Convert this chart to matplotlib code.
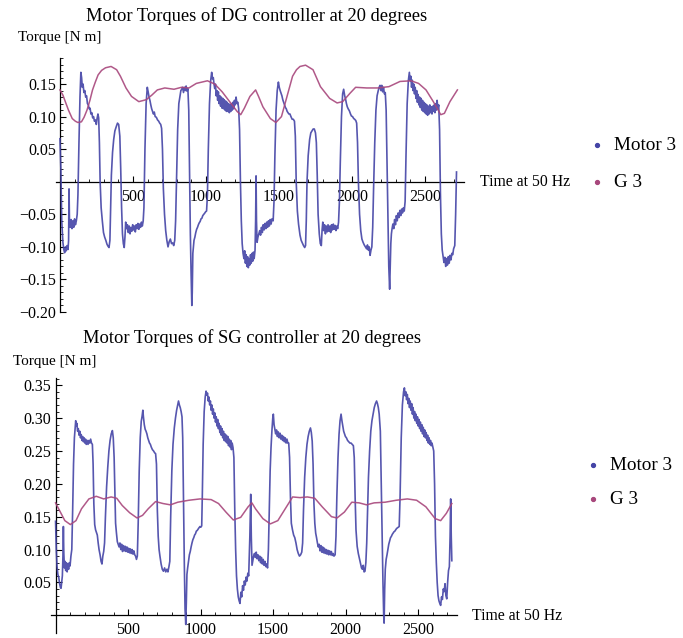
import numpy as np
import matplotlib
matplotlib.use("Agg")
import matplotlib.pyplot as plt
from matplotlib.lines import Line2D
from matplotlib.ticker import FixedLocator

plt.rcParams['font.family'] = ['Liberation Serif', 'DejaVu Serif']

# ---------------- data: DG controller (top) ----------------
dg_motor_t = [0, 6, 12, 20, 26, 32, 38, 43, 49, 55, 59, 62, 65, 70, 76, 82, 88, 94, 100, 106, 112, 118, 123,
              130, 137, 143, 148, 153, 158, 164, 170, 176, 182, 188, 194, 200, 206, 212, 218, 224, 230, 236, 242,
              249, 254, 260, 265, 270, 275, 282, 290, 298, 306, 314, 322, 329, 336, 342, 347, 352, 360, 368, 376,
              386, 394, 402, 410, 416, 422, 428, 434, 440, 445, 450, 456, 462, 468, 474, 480, 486, 492, 498, 504,
              510, 516, 522, 528, 534, 540, 546, 552, 558, 564, 570, 575, 582, 590, 598, 604, 610, 616, 622, 628,
              634, 640, 646, 652, 660, 668, 676, 683, 690, 696, 702, 708, 716, 724, 732, 740, 748, 756, 764, 772,
              779, 786, 792, 799, 806, 814, 822, 828, 834, 840, 846, 852, 858, 864, 870, 876, 882, 887, 893, 898,
              903, 906, 910, 913, 918, 924, 930, 936, 942, 948, 954, 960, 966, 972, 978, 985, 992, 998, 1004, 1010,
              1016, 1024, 1032, 1039, 1044, 1050, 1055, 1060, 1065, 1070, 1075, 1080, 1085, 1090, 1095, 1100, 1105,
              1110, 1115, 1120, 1125, 1130, 1135, 1140, 1145, 1150, 1155, 1160, 1165, 1170, 1175, 1180, 1185, 1190,
              1195, 1200, 1206, 1212, 1218, 1224, 1230, 1236, 1242, 1248, 1254, 1260, 1265, 1270, 1275, 1280, 1285,
              1290, 1295, 1300, 1305, 1310, 1315, 1320, 1325, 1330, 1336, 1340, 1343, 1346, 1350, 1356, 1362, 1368,
              1374, 1380, 1386, 1392, 1398, 1404, 1410, 1416, 1422, 1428, 1434, 1440, 1446, 1452, 1460, 1466, 1472,
              1480, 1488, 1496, 1502, 1508, 1514, 1520, 1526, 1532, 1538, 1544, 1550, 1556, 1562, 1568, 1575, 1582,
              1590, 1598, 1606, 1612, 1618, 1626, 1634, 1644, 1652, 1660, 1668, 1676, 1682, 1687, 1692, 1700, 1710,
              1718, 1726, 1734, 1742, 1750, 1756, 1762, 1768, 1776, 1783, 1790, 1795, 1800, 1806, 1812, 1818, 1824,
              1830, 1836, 1842, 1848, 1854, 1860, 1866, 1872, 1878, 1884, 1890, 1896, 1902, 1908, 1914, 1920, 1928,
              1936, 1943, 1950, 1956, 1962, 1968, 1974, 1982, 1990, 1996, 2004, 2012, 2018, 2026, 2032, 2038, 2044,
              2052, 2060, 2068, 2076, 2084, 2092, 2100, 2106, 2112, 2118, 2124, 2130, 2136, 2142, 2148, 2156, 2164,
              2172, 2180, 2186, 2192, 2198, 2204, 2210, 2216, 2222, 2228, 2234, 2240, 2246, 2252, 2258, 2262, 2266,
              2270, 2274, 2280, 2286, 2292, 2298, 2304, 2310, 2316, 2322, 2328, 2334, 2340, 2346, 2352, 2358, 2364,
              2370, 2378, 2386, 2393, 2398, 2403, 2408, 2413, 2418, 2423, 2428, 2433, 2438, 2443, 2448, 2453, 2458,
              2463, 2468, 2473, 2478, 2483, 2488, 2493, 2498, 2503, 2508, 2513, 2518, 2523, 2528, 2533, 2538, 2543,
              2548, 2553, 2558, 2563, 2568, 2573, 2578, 2583, 2588, 2594, 2600, 2606, 2612, 2618, 2624, 2630, 2636,
              2642, 2648, 2654, 2660, 2666, 2672, 2678, 2684, 2690, 2696, 2704, 2710, 2716]
dg_motor_v = [0.066, 0.02, -0.06, -0.093, -0.104, -0.109, -0.100, -0.106, -0.098, -0.104, -0.090, -0.011, -0.060,
              -0.070, -0.058, -0.072, -0.060, -0.070, -0.057, -0.066, -0.060, -0.050, -0.020,
              0.060, 0.130, 0.168, 0.160, 0.145, 0.150, 0.137, 0.140, 0.130, 0.132, 0.120, 0.118, 0.112, 0.113, 0.104,
              0.106, 0.098, 0.100, 0.093, 0.095,
              0.088, 0.097, 0.104, 0.098, 0.060, 0.000, -0.040, -0.060, -0.078, -0.085, -0.090, -0.096, -0.099, -0.101,
              -0.090, -0.040, 0.010, 0.045, 0.065, 0.078,
              0.085, 0.090, 0.088, 0.070, 0.020, -0.040, -0.080, -0.095, -0.101, -0.085, -0.062, -0.072, -0.066, -0.078,
              -0.068, -0.080, -0.070, -0.076, -0.066, -0.074,
              -0.068, -0.077, -0.066, -0.072, -0.064, -0.073, -0.065, -0.070, -0.062, -0.068, -0.060, -0.040, 0.050,
              0.120, 0.145, 0.138, 0.130, 0.125, 0.118, 0.112,
              0.108, 0.104, 0.107, 0.100, 0.099, 0.095, 0.093, 0.090, 0.088, 0.082, 0.050, -0.010, -0.050, -0.075,
              -0.090, -0.100, -0.092, -0.088, -0.095, -0.094,
              -0.098, -0.090, -0.060, 0.010, 0.080, 0.120, 0.132, 0.140, 0.142, 0.145, 0.137, 0.145, 0.140, 0.147,
              0.139, 0.143, 0.110, 0.020, -0.080, -0.140,
              -0.190, -0.170, -0.110, -0.103, -0.090, -0.085, -0.078, -0.073, -0.070, -0.066, -0.063, -0.061, -0.057,
              -0.056, -0.052, -0.050, -0.048, -0.046, -0.045, -0.020,
              0.050, 0.120, 0.155, 0.168, 0.158, 0.160, 0.150, 0.143, 0.150, 0.132, 0.140, 0.125, 0.138, 0.120, 0.132,
              0.116, 0.130,
              0.113, 0.128, 0.112, 0.126, 0.110, 0.124, 0.108, 0.122, 0.108, 0.120, 0.106, 0.118, 0.108, 0.120, 0.110,
              0.122, 0.112,
              0.125, 0.118, 0.130, 0.120, 0.122, 0.112, 0.080, 0.000, -0.060, -0.095, -0.110, -0.118, -0.106, -0.125,
              -0.112, -0.130, -0.115,
              -0.132, -0.118, -0.128, -0.112, -0.125, -0.110, -0.122, -0.108, -0.118, -0.105, -0.060, 0.009, -0.060,
              -0.093, -0.085, -0.080, -0.075,
              -0.082, -0.070, -0.078, -0.066, -0.074, -0.064, -0.072, -0.062, -0.070, -0.060, -0.068, -0.058, -0.065,
              -0.057, -0.060, -0.030, 0.040,
              0.110, 0.140, 0.153, 0.145, 0.140, 0.136, 0.132, 0.126, 0.122, 0.118, 0.114, 0.112, 0.108, 0.106, 0.104,
              0.104, 0.100,
              0.096, 0.096, 0.093, 0.070, 0.000, -0.045, -0.065, -0.082, -0.090, -0.094, -0.098, -0.101, -0.098,
              -0.060, 0.000, 0.040, 0.065,
              0.075, 0.078, 0.081, 0.081, 0.075, 0.060, 0.010, -0.050, -0.080, -0.095, -0.098, -0.075, -0.062, -0.075,
              -0.066, -0.080, -0.068,
              -0.077, -0.066, -0.076, -0.068, -0.078, -0.066, -0.074, -0.065, -0.073, -0.067, -0.075, -0.068, -0.072,
              -0.062, -0.030, 0.030, 0.100,
              0.135, 0.142, 0.132, 0.127, 0.120, 0.115, 0.112, 0.109, 0.104, 0.101, 0.100, 0.097, 0.096, 0.094, 0.090,
              0.060, 0.000,
              -0.050, -0.075, -0.088, -0.093, -0.097, -0.100, -0.103, -0.097, -0.105, -0.100, -0.113, -0.105, -0.100,
              -0.070, -0.010, 0.060, 0.110,
              0.132, 0.140, 0.145, 0.148, 0.140, 0.148, 0.138, 0.145, 0.135, 0.137, 0.110, 0.030, -0.060, -0.130,
              -0.165, -0.130, -0.095,
              -0.080, -0.073, -0.065, -0.072, -0.058, -0.066, -0.052, -0.060, -0.048, -0.055, -0.044, -0.052, -0.042,
              -0.048, -0.040, -0.045, -0.030,
              0.040, 0.120, 0.155, 0.168, 0.155, 0.162, 0.145, 0.156, 0.140, 0.150, 0.135, 0.145, 0.128, 0.140, 0.122,
              0.134, 0.118,
              0.130, 0.114, 0.128, 0.110, 0.125, 0.108, 0.122, 0.106, 0.120, 0.104, 0.118, 0.102, 0.116, 0.104, 0.118,
              0.106, 0.115,
              0.104, 0.116, 0.108, 0.118, 0.106, 0.120, 0.110, 0.125, 0.112, 0.118, 0.080, -0.020, -0.080, -0.105,
              -0.115, -0.124, -0.116,
              -0.130, -0.118, -0.128, -0.115, -0.125, -0.113, -0.120, -0.110, -0.112, -0.103, -0.098, -0.050, 0.015]

dg_g_t = [0, 20, 58, 84, 105, 122, 147, 165, 185, 205, 223, 242, 261, 285, 312, 350, 388, 414, 452, 490, 540, 591,
          629, 667, 718, 781, 832, 883, 934, 1010, 1060, 1111, 1162, 1213, 1238, 1263, 1301, 1340, 1360, 1390, 1441,
          1479, 1517, 1555, 1593, 1620, 1644, 1682, 1733, 1784, 1847, 1898, 1936, 1987, 2025, 2101, 2177, 2253, 2329,
          2405, 2456, 2507, 2557, 2608, 2633, 2671, 2722]
dg_g_v = [0.141, 0.133, 0.110, 0.097, 0.093, 0.091, 0.092, 0.099, 0.110, 0.125, 0.141, 0.153, 0.164, 0.171, 0.175,
          0.177, 0.172, 0.162, 0.144, 0.131, 0.123, 0.126, 0.133, 0.141, 0.144, 0.142, 0.145, 0.144, 0.151, 0.155,
          0.150, 0.138, 0.123, 0.108, 0.103, 0.113, 0.131, 0.141, 0.131, 0.115, 0.097, 0.091, 0.100, 0.131, 0.162,
          0.172, 0.177, 0.179, 0.172, 0.146, 0.128, 0.121, 0.123, 0.136, 0.145, 0.144, 0.144, 0.146, 0.154, 0.155,
          0.151, 0.141, 0.123, 0.103, 0.105, 0.123, 0.141]

# ---------------- data: SG controller (bottom) ----------------
sg_motor_t = [0, 5, 10, 16, 22, 28, 34, 38, 43, 47, 51, 54, 57, 61, 66, 70, 75, 80, 85, 90, 95, 100, 106, 112, 118,
              124, 130, 135, 139, 143, 147, 152, 157, 162, 167, 172, 177, 182, 187, 192, 197, 202, 207, 212, 218, 224,
              230, 236, 242, 248, 254, 259, 264, 270, 276, 282, 288, 294, 300, 307, 314, 320, 326, 332, 338, 344, 352,
              360, 368, 376, 384, 392, 398, 404, 409, 414, 420, 426, 432, 438, 444, 450, 456, 462, 468, 474, 480, 486,
              492, 498, 504, 510, 516, 522, 528, 534, 540, 546, 552, 558, 564, 570, 577, 584, 591, 597, 602, 606, 612,
              618, 624, 630, 636, 642, 648, 654, 660, 668, 676, 684, 690, 696, 702, 708, 714, 720, 728, 736, 744, 752,
              760, 768, 775, 782, 788, 794, 802, 810, 819, 827, 835, 842, 848, 854, 860, 866, 872, 877, 882, 888, 893,
              898, 902, 906, 911, 917, 923, 929, 935, 941, 947, 953, 959, 965, 971, 977, 983, 989, 996, 1002, 1008,
              1012, 1018, 1025, 1032, 1038, 1043, 1048, 1053, 1058, 1063, 1068, 1073, 1078, 1083, 1088, 1093, 1098,
              1103, 1108, 1113, 1118, 1123, 1128, 1133, 1138, 1143, 1148, 1153, 1158, 1163, 1168, 1173, 1178, 1183,
              1188, 1193, 1198, 1203, 1208, 1213, 1218, 1224, 1230, 1236, 1242, 1248, 1254, 1260, 1266, 1272, 1278,
              1284, 1290, 1296, 1302, 1308, 1314, 1320, 1326, 1332, 1340, 1346, 1350, 1355, 1360, 1366, 1372, 1378,
              1384, 1390, 1396, 1402, 1408, 1414, 1420, 1426, 1432, 1438, 1444, 1450, 1456, 1462, 1468, 1474, 1480,
              1486, 1492, 1498, 1502, 1507, 1512, 1518, 1524, 1530, 1536, 1542, 1548, 1554, 1560, 1566, 1572, 1578,
              1584, 1590, 1596, 1602, 1608, 1614, 1620, 1626, 1634, 1642, 1650, 1658, 1666, 1674, 1682, 1690, 1698,
              1704, 1710, 1718, 1726, 1734, 1742, 1750, 1758, 1764, 1770, 1776, 1782, 1788, 1794, 1800, 1806, 1812,
              1818, 1824, 1830, 1836, 1842, 1848, 1854, 1860, 1866, 1872, 1878, 1884, 1890, 1896, 1902, 1908, 1914,
              1920, 1928, 1934, 1940, 1948, 1955, 1962, 1969, 1975, 1981, 1987, 1993, 1999, 2006, 2014, 2022, 2030,
              2038, 2046, 2054, 2060, 2066, 2072, 2080, 2088, 2096, 2104, 2110, 2116, 2122, 2128, 2134, 2140, 2146,
              2152, 2158, 2166, 2174, 2182, 2190, 2198, 2206, 2214, 2220, 2226, 2232, 2240, 2246, 2252, 2258, 2263,
              2266, 2270, 2274, 2280, 2286, 2292, 2298, 2304, 2310, 2316, 2322, 2328, 2334, 2340, 2346, 2352, 2358,
              2364, 2370, 2376, 2384, 2392, 2400, 2406, 2411, 2416, 2421, 2426, 2431, 2436, 2441, 2446, 2451, 2456,
              2461, 2466, 2471, 2476, 2481, 2486, 2491, 2496, 2501, 2506, 2511, 2516, 2521, 2526, 2531, 2536, 2541,
              2546, 2551, 2556, 2561, 2566, 2571, 2576, 2581, 2586, 2591, 2596, 2602, 2608, 2614, 2620, 2626, 2632,
              2638, 2644, 2650, 2656, 2662, 2668, 2674, 2680, 2686, 2692, 2698, 2704, 2710, 2716, 2721, 2725, 2729,
              2733]
sg_motor_v = [0.143, 0.100, 0.075, 0.062, 0.058, 0.048, 0.042, 0.041, 0.052, 0.060, 0.090, 0.135, 0.095, 0.072,
              0.082, 0.068, 0.080, 0.066, 0.078, 0.070, 0.080, 0.075, 0.090, 0.100, 0.160,
              0.230, 0.270, 0.285, 0.296, 0.288, 0.292, 0.280, 0.284, 0.274, 0.280, 0.270, 0.275, 0.266, 0.272, 0.264,
              0.270, 0.262, 0.268, 0.260, 0.266, 0.260,
              0.266, 0.262, 0.268, 0.262, 0.260, 0.230, 0.170, 0.138, 0.130, 0.126, 0.122, 0.110, 0.100, 0.092, 0.082,
              0.078, 0.090, 0.097, 0.110, 0.150, 0.195,
              0.225, 0.250, 0.266, 0.276, 0.281, 0.270, 0.240, 0.190, 0.140, 0.125, 0.112, 0.108, 0.104, 0.110, 0.100,
              0.108, 0.097, 0.106, 0.098, 0.105, 0.097,
              0.104, 0.096, 0.102, 0.095, 0.101, 0.094, 0.100, 0.093, 0.098, 0.092, 0.090, 0.085, 0.090, 0.140, 0.220,
              0.270, 0.295, 0.303, 0.312, 0.302, 0.290,
              0.283, 0.280, 0.276, 0.270, 0.266, 0.262, 0.260, 0.256, 0.252, 0.250, 0.247, 0.246, 0.230, 0.160, 0.120,
              0.100, 0.090, 0.078, 0.070, 0.067, 0.072,
              0.066, 0.070, 0.066, 0.074, 0.082, 0.150, 0.220, 0.260, 0.285, 0.300, 0.312, 0.320, 0.326, 0.320, 0.316,
              0.310, 0.302, 0.270, 0.180, 0.080, 0.010,
              -0.014, 0.020, 0.062, 0.072, 0.082, 0.092, 0.097, 0.104, 0.110, 0.115, 0.118, 0.122, 0.124, 0.128, 0.129,
              0.131, 0.133, 0.135, 0.134, 0.136,
              0.180, 0.260, 0.310, 0.332, 0.341, 0.335, 0.338, 0.326, 0.332, 0.320, 0.326, 0.312, 0.320, 0.306, 0.314,
              0.300, 0.308,
              0.294, 0.302, 0.288, 0.298, 0.284, 0.292, 0.278, 0.288, 0.274, 0.284, 0.270, 0.280, 0.266, 0.276, 0.264,
              0.274, 0.262,
              0.272, 0.258, 0.268, 0.256, 0.266, 0.252, 0.262, 0.255, 0.240, 0.160, 0.100, 0.060, 0.040, 0.028, 0.022,
              0.018, 0.035,
              0.028, 0.045, 0.038, 0.052, 0.046, 0.058, 0.052, 0.064, 0.060, 0.120, 0.184, 0.120, 0.076, 0.082, 0.090,
              0.094, 0.088,
              0.096, 0.086, 0.092, 0.083, 0.090, 0.080, 0.088, 0.078, 0.085, 0.076, 0.082, 0.074, 0.078, 0.072, 0.100,
              0.160, 0.220,
              0.255, 0.280, 0.300, 0.306, 0.290, 0.284, 0.276, 0.282, 0.272, 0.279, 0.270, 0.277, 0.268, 0.274, 0.266,
              0.272, 0.264,
              0.270, 0.262, 0.268, 0.262, 0.262, 0.240, 0.180, 0.140, 0.130, 0.122, 0.118, 0.110, 0.100, 0.094, 0.090,
              0.092, 0.096,
              0.110, 0.160, 0.210, 0.240, 0.260, 0.272, 0.280, 0.285, 0.278, 0.265, 0.230, 0.170, 0.140, 0.125, 0.118,
              0.110, 0.104,
              0.108, 0.098, 0.106, 0.096, 0.104, 0.095, 0.102, 0.094, 0.100, 0.093, 0.099, 0.092, 0.098, 0.092, 0.097,
              0.091, 0.094,
              0.090, 0.092, 0.120, 0.180, 0.240, 0.275, 0.296, 0.306, 0.296, 0.288, 0.280, 0.276, 0.272, 0.270, 0.266,
              0.264, 0.262,
              0.262, 0.260, 0.258, 0.240, 0.180, 0.130, 0.105, 0.094, 0.086, 0.078, 0.072, 0.070, 0.076, 0.066, 0.067,
              0.080, 0.110,
              0.160, 0.210, 0.250, 0.280, 0.296, 0.306, 0.316, 0.322, 0.326, 0.322, 0.316, 0.306, 0.280, 0.200, 0.120,
              0.050, 0.000,
              -0.012, 0.040, 0.070, 0.085, 0.092, 0.100, 0.108, 0.113, 0.118, 0.120, 0.123, 0.125, 0.127, 0.128, 0.130,
              0.132, 0.133,
              0.134, 0.135, 0.180, 0.270, 0.320, 0.340, 0.346, 0.334, 0.340, 0.328, 0.336, 0.322, 0.330, 0.316, 0.326,
              0.312, 0.322,
              0.306, 0.316, 0.300, 0.310, 0.296, 0.306, 0.292, 0.302, 0.288, 0.298, 0.284, 0.294, 0.280, 0.290, 0.276,
              0.286, 0.272,
              0.282, 0.270, 0.278, 0.266, 0.274, 0.262, 0.270, 0.260, 0.266, 0.258, 0.262, 0.256, 0.250, 0.200, 0.120,
              0.080, 0.050,
              0.030, 0.022, 0.018, 0.015, 0.028, 0.024, 0.040, 0.036, 0.048, 0.030, 0.025, 0.050, 0.068, 0.074, 0.120,
              0.177, 0.120,
              0.083]

sg_g_t = [0, 26, 64, 102, 141, 179, 230, 281, 332, 383, 422, 460, 511, 562, 600, 639, 690, 741, 792, 843, 920, 996,
          1073, 1124, 1175, 1226, 1277, 1328, 1354, 1379, 1430, 1481, 1533, 1584, 1635, 1686, 1737, 1788, 1839, 1903,
          1941, 1992, 2043, 2094, 2145, 2197, 2273, 2350, 2426, 2490, 2554, 2618, 2656, 2695, 2733]
sg_g_v = [0.171, 0.160, 0.144, 0.138, 0.144, 0.162, 0.177, 0.181, 0.177, 0.180, 0.178, 0.167, 0.156, 0.148, 0.152,
          0.162, 0.173, 0.170, 0.168, 0.172, 0.175, 0.177, 0.176, 0.170, 0.157, 0.145, 0.149, 0.165, 0.171, 0.162,
          0.147, 0.139, 0.144, 0.162, 0.180, 0.179, 0.180, 0.178, 0.165, 0.150, 0.148, 0.157, 0.172, 0.171, 0.168,
          0.171, 0.172, 0.175, 0.177, 0.175, 0.165, 0.147, 0.144, 0.155, 0.170]

titles = ["Motor Torques of DG controller at 20 degrees", "Motor Torques of SG controller at 20 degrees"]
y_label = "Torque [N m]"
x_label = "Time at 50 Hz"
legend_labels = ["Motor 3", "G 3"]
x_major = [500, 1000, 1500, 2000, 2500]
dg_y_major = [-0.20, -0.15, -0.10, -0.05, 0.05, 0.10, 0.15]
sg_y_major = [0.05, 0.10, 0.15, 0.20, 0.25, 0.30, 0.35]

BLUE = '#4444a6'
RED = '#a8477c'

W, H = 683, 638
fig = plt.figure(figsize=(W / 100, H / 100), dpi=100)


def fx(px):
    return px / W


def fy(py):
    return 1 - py / H


def make_axes(rect_px, xlim, ylim, y_major, y_minor_range):
    l, r, t, b = rect_px
    ax = fig.add_axes([fx(l), fy(b), (r - l) / W, (b - t) / H])
    ax.set_xlim(*xlim)
    ax.set_ylim(*ylim)
    for s in ['top', 'right']:
        ax.spines[s].set_visible(False)
    ax.spines['left'].set_position(('data', 0))
    ax.spines['bottom'].set_position(('data', 0))
    for s in ['left', 'bottom']:
        ax.spines[s].set_linewidth(0.9)
    ax.xaxis.set_major_locator(FixedLocator(x_major))
    xminor = [v for v in range(100, 2800, 100) if v % 500 != 0]
    ax.xaxis.set_minor_locator(FixedLocator(xminor))
    ax.yaxis.set_major_locator(FixedLocator(y_major))
    lo, hi = y_minor_range
    yminor = [k / 100 for k in range(lo, hi + 1) if k % 5 != 0]
    ax.yaxis.set_minor_locator(FixedLocator(yminor))
    ax.set_xticklabels([str(v) for v in x_major])
    ax.set_yticklabels(["%.2f" % v if v >= 0 else "\u2212%.2f" % abs(v) for v in y_major])
    ax.tick_params(which='major', direction='in', length=4, width=0.8, labelsize=11.5, pad=3)
    ax.tick_params(which='minor', direction='in', length=2.3, width=0.6)
    ax.tick_params(axis='x', which='major', pad=5)
    ax.patch.set_alpha(0)
    return ax


# top panel
ax1 = make_axes((55.6, 464.4, 58, 312), (-30, 2770), (-0.20, 0.19), dg_y_major, (-20, 19))
ax1.plot(dg_motor_t, dg_motor_v, color=BLUE, lw=1.2, alpha=0.9, zorder=3)
ax1.plot(dg_g_t, dg_g_v, color=RED, lw=1.1, alpha=0.9, zorder=3)

# bottom panel
ax2 = make_axes((51.2, 457.2, 378, 633), (-30, 2770), (-0.027, 0.361), sg_y_major, (1, 36))
ax2.plot(sg_motor_t, sg_motor_v, color=BLUE, lw=1.2, alpha=0.9, zorder=3)
ax2.plot(sg_g_t, sg_g_v, color=RED, lw=1.1, alpha=0.9, zorder=3)

# texts
fig.text(fx(257), fy(16), titles[0], ha='center', va='center', fontsize=13.3)
fig.text(fx(18), fy(37), y_label, ha='left', va='center', fontsize=11)
fig.text(fx(480), fy(182), x_label, ha='left', va='center', fontsize=11.3)

fig.text(fx(252), fy(338), titles[1], ha='center', va='center', fontsize=13.3)
fig.text(fx(13), fy(361), y_label, ha='left', va='center', fontsize=11)
fig.text(fx(472), fy(616), x_label, ha='left', va='center', fontsize=11.3)

# legends
for ys, xs in [((145, 182), (597, 614)), ((465, 499), (593, 610))]:
    for lab, col, yy in zip(legend_labels, [BLUE, RED], ys):
        fig.add_artist(Line2D([fx(xs[0])], [fy(yy)], marker='o', markersize=2.8, color=col,
                              linestyle='none', transform=fig.transFigure))
        fig.text(fx(xs[1]), fy(yy), lab, ha='left', va='center', fontsize=13.8)

fig.savefig("out.png", dpi=100)
